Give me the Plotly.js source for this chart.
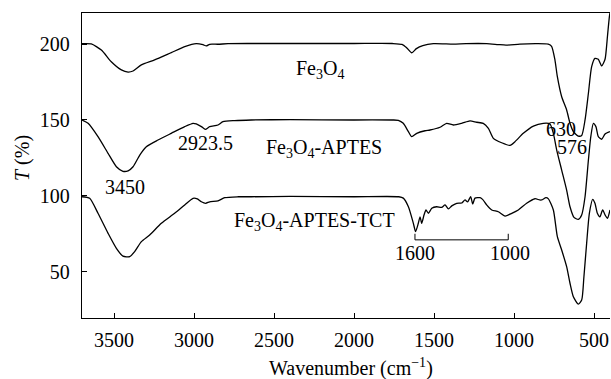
<!DOCTYPE html>
<html>
<head>
<meta charset="utf-8">
<script src="https://cdn.plot.ly/plotly-3.0.1.min.js"></script>
<style>html,body{margin:0;padding:0;background:#fff;}#chart{width:611px;height:379px;}</style>
</head>
<body>
<div id="chart"></div>
<script>
// Wavenumbers (cm^-1) and transmittance values
const fe3o4Wn = [3700,3642,3579,3517,3454,3412,3381,3329,3246,3142,3058,2986,2944,2923,2902,2850,2787,2642,2400,2000,1760,1700,1670,1639,1610,1570,1504,1379,1300,1171,1100,1050,963,858,786,765,744,729,702,671,650,629,598,577,556,535,515,494,473,452,431,416,404,398];
const fe3o4T  = [200.3,200.1,196.1,188.4,183,181.6,182.3,186.3,189.6,194.4,198.3,200.3,199.6,198.8,199.9,199.9,200.3,200.4,200.4,200.4,200.4,199.8,197.5,194.3,197,199,200.3,200,200.3,200.3,199.7,199.3,200,200.3,200,198.5,189.5,178.5,165.3,156.6,147.8,142.3,139.4,139.8,150,167.6,185,190.6,190,185.6,190,205,218,222];

const aptesWn = [3700,3662,3600,3537,3485,3444,3412,3381,3339,3298,3225,3142,3058,3006,2986,2954,2929,2902,2850,2819,2746,2642,2400,2000,1760,1723,1692,1660,1639,1608,1556,1525,1462,1421,1379,1327,1275,1233,1192,1160,1129,1077,1025,994,942,879,817,775,754,733,702,671,650,625,598,577,556,535,520,504,488,473,452,431,400];
const aptesT  = [150,147.8,139,128,119.2,116.2,116.5,119.2,126.9,132.4,136.8,141.2,145.6,147.8,147.4,145.6,143.8,145.6,146.7,148.9,149.6,150,150.2,150,150,149.8,147.8,142.3,139,141.2,142.9,143.4,145.2,147.8,146.7,147.8,149.4,148.5,147.8,144.5,137.9,135,133.3,135.7,141.2,146,147.8,147.4,141.2,130.2,117,103.8,92.8,85.8,84.5,87.4,99.4,123.6,139,147.8,145.6,139,137.3,140.7,142.3];

const tctWn = [3700,3652,3600,3537,3485,3444,3402,3371,3329,3277,3204,3121,3058,3006,2979,2954,2927,2902,2850,2808,2725,2642,2400,2000,1720,1692,1660,1629,1615,1598,1587,1577,1562,1550,1535,1514,1483,1452,1431,1410,1389,1358,1327,1306,1290,1271,1258,1244,1212,1195,1171,1139,1098,1056,1014,973,921,869,840,827,800,785,754,729,702,671,650,629,598,577,563,546,529,508,494,479,463,446,431,416,400];
const tctT  = [99.4,98.4,88.5,75.3,65.4,60.3,59.9,63.2,69.8,74.2,81.9,88.5,94,98.4,98,96.1,95.1,96.1,96.7,98.8,99.4,99.4,99.6,99.4,99.4,98.5,92.8,81.9,76.4,81.9,86.2,81.9,87.5,90.7,88.5,91.8,92.8,92.4,94,91.4,93.4,95.1,95.3,97.3,96,99.4,94.6,98.5,98.8,97.5,94,90.7,89.5,86.7,88.5,90.7,95.1,98.1,97.3,97.3,98.8,98,90.7,73.1,64.3,53.3,42.4,33.5,28.7,31.3,46.7,68.7,88.5,97.7,95.1,88.5,86.2,90.7,87.5,85.2,90.7];

const xTickVals = [3500,3000,2500,2000,1500,1000,500];
const yTickVals = [50,100,150,200];

const seriesLabels = ['Fe<sub>3</sub>O<sub>4</sub>','Fe<sub>3</sub>O<sub>4</sub>-APTES','Fe<sub>3</sub>O<sub>4</sub>-APTES-TCT'];
const peakLabels = ['2923.5','3450','630','576','1600','1000'];
const xTitle = 'Wavenumber (cm<sup>\u22121</sup>)';
const yTitle = '<i>T</i> (%)';

const FONT = 'Liberation Serif, Times New Roman, serif';
const FS = 20;
const lineStyle = {color:'#000', width:1.3, shape:'spline', smoothing:0.6};

const traces = [
  {x:fe3o4Wn, y:fe3o4T, mode:'lines', line:lineStyle, hoverinfo:'skip'},
  {x:aptesWn, y:aptesT, mode:'lines', line:lineStyle, hoverinfo:'skip'},
  {x:tctWn, y:tctT, mode:'lines', line:lineStyle, hoverinfo:'skip'}
];

const annFont = {family:FONT, size:FS, color:'#000'};
function ann(text, x, y){
  return {text:text, x:x, y:y, xref:'x', yref:'y', showarrow:false, font:annFont, xanchor:'center', yanchor:'middle'};
}

const layout = {
  width:611, height:379,
  margin:{l:82, r:1, t:13, b:61},
  paper_bgcolor:'#fff', plot_bgcolor:'#fff',
  showlegend:false,
  font:{family:FONT, size:FS, color:'#000'},
  xaxis:{
    range:[3700,400], tickvals:xTickVals, ticks:'inside', ticklen:5, tickwidth:1, tickcolor:'#000',
    showline:true, linecolor:'#000', linewidth:1.3, mirror:true, showgrid:false, zeroline:false,
    tickfont:{family:FONT, size:FS, color:'#000'}, ticklabelstandoff:4
  },
  yaxis:{
    range:[19.5,220.5], tickvals:yTickVals, ticks:'inside', ticklen:5, tickwidth:1, tickcolor:'#000',
    showline:true, linecolor:'#000', linewidth:1.3, showgrid:false, zeroline:false,
    tickfont:{family:FONT, size:FS, color:'#000'}, ticklabelstandoff:7
  },
  annotations:[
    ann(seriesLabels[0], 2212, 183),
    ann(seriesLabels[1], 2187, 131),
    ann(seriesLabels[2], 2250, 83),
    ann(peakLabels[0], 2928, 134.6),
    ann(peakLabels[1], 3433, 106),
    ann(peakLabels[2], 706, 143.8),
    ann(peakLabels[3], 640, 132.4),
    ann(peakLabels[4], 1619, 62.3),
    ann(peakLabels[5], 1025, 62.3),
    {text:xTitle, xref:'paper', yref:'paper', x:(351-82)/528, y:(318-367)/305, xanchor:'center', yanchor:'middle', showarrow:false, font:annFont},
    {text:yTitle, xref:'paper', yref:'paper', x:(22.5-82)/528, y:(318-158.5)/305, xanchor:'center', yanchor:'middle', textangle:-90, showarrow:false, font:annFont}
  ],
  shapes:[
    {type:'path', xref:'x', yref:'y', path:'M 1619 75 L 1619 71 L 1036 71 L 1036 75', line:{color:'#000', width:1}}
  ]
};

Plotly.newPlot('chart', traces, layout, {staticPlot:true, displayModeBar:false});
</script>
</body>
</html>
